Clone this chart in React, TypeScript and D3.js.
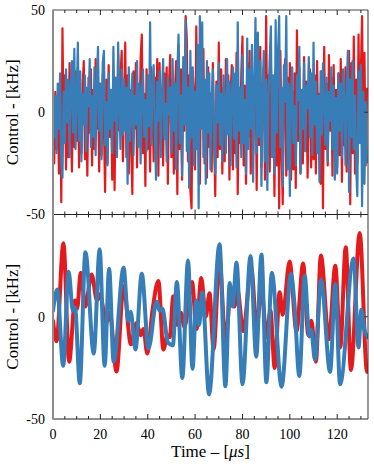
import * as d3 from "d3";

const WIDTH = 374;
const HEIGHT = 468;
const MARGIN = { top: 10, right: 6, bottom: 49, left: 53 };

const RED = "#e41a1c";
const BLUE = "#377eb8";
const FONT = "Liberation Serif, DejaVu Serif, serif";

// noisy control, one sample every 0.5 us
const STEP = 0.5;

const noiseRed = [
  -2, -25, 10, -18, 6, -30, 14, -44, 41, -12, 18, -28, 8, -22, 24, -6, -29, 15, -17, 20,
  -14, 22, -27, 9, -20, 13, 25, -23, 4, -31, 17, -10, 21, -26, 11, -18, 26, -8, 15, -29,
  12, -21, 19, -7, -39, 16, -25, 23, -12, 8, -33, 20, -38, 14, -19, 28, -9, 17, 30, -24,
  6, 34, -22, 18, -30, 11, -16, -40, 20, -8, 24, -27, 13, -14, 27, 38, -20, 9, -36, 21,
  -18, 14, -29, 22, 5, -24, 17, -12, 26, -31, 24, -15, 10, -26, 19, -8, 22, -35, 15, 28,
  -22, 16, -30, 11, 25, -40, 33, -18, 21, -33, 14, -9, 47, 36, -24, 18, -38, -47, 20, 9,
  -28, 42, -12, 27, -35, 19, -6, 31, -25, 13, -32, 22, -17, 9, -29, 24, -10, -41, 15, -22,
  34, -18, 21, -30, 12, -24, 26, -7, 18, -33, 10, 23, -28, 15, -20, 29, -40, 8, -15, 19,
  37, -26, 13, -35, 24, -12, 30, -30, 16, -21, 9, 28, -38, 20, -16, 32, -27, 11, 22, -33,
  47, -20, 18, -29, 25, -12, 8, -41, 21, -26, 14, -47, 30, -18, -45, 12, 26, -31, 17, -24,
  24, -33, 10, -28, 19, -37, 40, -14, 22, -30, 8, -25, 27, -19, 15, -32, 6, 21, -27, 13,
  -23, 18, -30, 25, -12, 9, -35, 20, -47, 32, -18, 14, -26, 28, -9, 17, -31, 23, -14, 11,
  -27, 19, -21, 26, -34, 13, -16, 22, -29, 8, 30, -45, 24, -20, 37, -30, 16, -25, 38, -12,
  21, 47, -18, 29, -26, 12,
];

const noiseBlue = [
  5, -12, 8, -20, 14, -8, 19, -26, -32, 10, -15, 21, -5, 16, -22, 12, 25, -10, 31, -18,
  6, 34, -14, 20, -24, 9, -6, 18, -19, 12, 3, 26, -17, 8, -12, 22, -21, 15, 32, -9,
  14, -23, 24, 30, -16, 5, -26, 19, -8, 11, -20, 32, -4, 17, -22, 34, 7, -18, 21, -11,
  16, -9, 12, -35, 22, -14, 3, 19, -21, 8, -6, 25, -17, 14, -25, 10, 21, -12, 6, -19,
  18, -7, 44, -16, 11, 23, -10, -33, 15, -4, 20, -22, 9, 26, -13, 4, -24, 17, -1, 12,
  -20, 26, -9, 14, -28, 20, 38, -15, 8, -31, 27, -6, 45, -19, 12, -37, 30, -12, 22, -26,
  10, -18, 33, -47, 47, -8, 44, -22, 16, -35, 25, -10, 19, -28, 6, 21, -14, -30, 13, -5,
  24, -16, 9, -24, 18, 2, -20, 26, -11, 15, -26, 7, 22, -13, 19, -27, 44, -9, 12, -22,
  28, -15, 6, -30, 36, -18, 21, -8, 33, -34, 14, 46, -20, 39, -12, 25, -36, 10, 30, -24,
  16, -38, 8, 26, 42, -22, 18, -30, 45, -10, 29, 47, -17, 12, -36, 23, 5, 47, -28, 14,
  -41, 9, 22, -15, 3, -26, 18, 6, 32, -30, 11, -8, 24, -19, 13, 2, 27, -12, 19, -21,
  34, -6, 15, -20, 8, -34, 20, -11, 24, 4, -16, 17, -24, 10, -4, 22, -18, 13, -33, 7,
  -30, 19, -9, 14, -22, 21, 6, -26, 12, 30, -39, 16, -12, 25, -18, 8, -27, -41, 20, -15,
  23, -46, 10, -35, 5, -25,
];

// smoothed control: turning points (time in us, value in kHz)
const smoothRedT = [
  0, 1.5, 4.4, 6.8, 9.3, 10.2, 11.7, 13.6, 16.3, 18.6, 19.8, 22.5, 24, 26.8, 29.8, 32.9,
  35.3, 37, 38.2, 39.8, 42, 44.5, 46.6, 48.3, 49.3, 50.8, 52.5, 54, 55.5, 58.7, 60.6, 62.6,
  64.5, 66.1, 67.8, 70.3, 72.8, 75.2, 76.6, 77.9, 80.3, 83.7, 86, 88, 90.2, 91.8, 93.6,
  95.7, 97, 99.9, 102.8, 105.6, 107.8, 109.1, 111, 113.1, 116.5, 119.2, 121.3, 123.6,
  125.8, 129.5, 132.6, 133,
];
const smoothRedV = [
  -2, -12, 36, -22, 8, 4, 21.5, 5, 20.6, 8, 11, -3, 2, -26.8, 15, -13.5,
  -3, -9, -6, -18, 3, 17.5, -16, -9, -10, 10, -4, 2, -5, 17, -6, 19,
  0, 11.5, -16, 28, -12, 14, 5, 13, -7, 24, -5, 14, -10, 3, -25,
  12, 1, 27, -7, 26, -9, -2, -22, 30, -11, 25, -15, 34,
  -26, 41, -27, -25,
];

const smoothBlueT = [
  0, 1.8, 4.3, 6.6, 8.4, 9.3, 11.3, 13.7, 17.2, 19.7, 21.8, 23.7, 25.6, 29.8, 31.8, 32.8,
  34.8, 37.5, 40.3, 43.8, 45, 46.2, 48.5, 50.6, 52.3, 54.6, 57, 58.9, 60.5, 61.7, 63,
  65.9, 70.3, 72.8, 74.6, 75.8, 77.5, 80, 83.4, 85.8, 88, 90.1, 92.4, 96.5, 100.5, 101.9,
  104, 106.3, 108.2, 109, 110.6, 113.2, 117, 119.2, 121.2, 126.9, 129, 130.2, 131.6, 133,
];
const smoothBlueV = [
  3, 13.3, -24, 22, 3, 4.5, -32.5, 31.5, -18, 33, -24, 23.5, -22, 24, -2, 2.5,
  -16, 21, -15.5, 7.5, 3, 4, -12.5, -14, 17, -30, 27.5, -25.5, 8, -4, 12,
  -38, 35.5, -34, 16.5, 5, 26.5, -33, 29.7, -19.5, 30.5, -32, 21.5, -34.2, 21, 7,
  -29, 20, -9.6, -6.5, -21, 18, -27, 16, -33, 28.5, -15, 3.4, -7, -10,
];

const xTicks = [0, 20, 40, 60, 80, 100, 120];
const xMinorTicks = d3.range(0, 134, 5);
const topYLabels = [50, 0, -50];
const bottomYLabels = [0, -50];

export default function App() {
  const x = d3
    .scaleLinear()
    .domain([0, 133])
    .range([MARGIN.left, WIDTH - MARGIN.right]);
  const plotBottom = HEIGHT - MARGIN.bottom;
  const mid = (MARGIN.top + plotBottom) / 2;
  const yTop = d3.scaleLinear().domain([-50, 50]).range([mid, MARGIN.top]);
  const yBottom = d3.scaleLinear().domain([-50, 50]).range([plotBottom, mid]);

  const noiseLine = d3
    .line<number>()
    .x((d, i) => x(i * STEP))
    .y((d) => yTop(d));

  const smoothLine = d3
    .line<[number, number]>()
    .x((d) => x(d[0]))
    .y((d) => yBottom(d[1]))
    .curve(d3.curveMonotoneX);

  const redPts = smoothRedT.map((t, i) => [t, smoothRedV[i]] as [number, number]);
  const bluePts = smoothBlueT.map((t, i) => [t, smoothBlueV[i]] as [number, number]);

  const left = x.range()[0];
  const right = x.range()[1];

  // inward ticks along a horizontal border
  const hTicks = (y: number, dir: number, key: string) =>
    xMinorTicks.map((t) => (
      <line
        key={key + t}
        x1={x(t)}
        x2={x(t)}
        y1={y}
        y2={y + dir * (t % 20 === 0 ? 5 : 3)}
        stroke="#222"
        strokeWidth={1}
      />
    ));

  const textStyle = { fontFamily: FONT };

  return (
    <svg
      width={WIDTH}
      height={HEIGHT}
      style={{ position: "absolute", left: 0, top: 0, background: "#fff" }}
    >
      <defs>
        <clipPath id="clipTop">
          <rect x={left} y={MARGIN.top} width={right - left} height={mid - MARGIN.top} />
        </clipPath>
        <clipPath id="clipBottom">
          <rect x={left} y={mid} width={right - left} height={plotBottom - mid} />
        </clipPath>
      </defs>

      <g clipPath="url(#clipTop)" fill="none" strokeLinejoin="round">
        <path d={noiseLine(noiseRed) || ""} stroke={RED} strokeWidth={2.2} />
        <path d={noiseLine(noiseBlue) || ""} stroke={BLUE} strokeWidth={2.2} />
      </g>

      <g clipPath="url(#clipBottom)" fill="none" strokeLinejoin="round" strokeLinecap="round">
        <path d={smoothLine(redPts) || ""} stroke={RED} strokeWidth={4} />
        <path d={smoothLine(bluePts) || ""} stroke={BLUE} strokeWidth={4} />
      </g>

      {/* frame */}
      <line x1={left} x2={right} y1={MARGIN.top} y2={MARGIN.top} stroke="#444" />
      <line x1={left} x2={right} y1={mid} y2={mid} stroke="#222" />
      <line x1={left} x2={right} y1={plotBottom} y2={plotBottom} stroke="#222" />
      <line x1={right} x2={right} y1={MARGIN.top} y2={plotBottom} stroke="#333" />
      {hTicks(MARGIN.top, 1, "a")}
      {hTicks(mid, -1, "b")}
      {hTicks(mid, 1, "c")}
      {hTicks(plotBottom, -1, "d")}
      <line x1={right} x2={right - 4} y1={yTop(0)} y2={yTop(0)} stroke="#333" />
      <line x1={right} x2={right - 4} y1={yBottom(0)} y2={yBottom(0)} stroke="#333" />
      <line
        x1={left}
        x2={left}
        y1={MARGIN.top - 0.5}
        y2={plotBottom + 0.5}
        stroke="#8c8c8c"
        strokeWidth={2}
      />

      {/* y tick labels */}
      {topYLabels.map((v) => (
        <text key={"ty" + v} x={left - 8} y={yTop(v)} dy="0.35em" textAnchor="end" fontSize={14} style={textStyle}>
          {v}
        </text>
      ))}
      {bottomYLabels.map((v) => (
        <text key={"by" + v} x={left - 8} y={yBottom(v)} dy="0.35em" textAnchor="end" fontSize={14} style={textStyle}>
          {v}
        </text>
      ))}

      {/* x tick labels */}
      {xTicks.map((t) => (
        <text key={"xt" + t} x={x(t)} y={plotBottom + 20} textAnchor="middle" fontSize={14} style={textStyle}>
          {t}
        </text>
      ))}

      <text x={(left + right) / 2} y={plotBottom + 38} textAnchor="middle" fontSize={17} style={textStyle}>
        {"Time – ["}
        <tspan fontStyle="italic">μs</tspan>
        {"]"}
      </text>

      <text
        transform={`translate(18,${(MARGIN.top + mid) / 2}) rotate(-90)`}
        textAnchor="middle"
        fontSize={17}
        style={textStyle}
      >
        Control - [kHz]
      </text>
      <text
        transform={`translate(18,${(mid + plotBottom) / 2}) rotate(-90)`}
        textAnchor="middle"
        fontSize={17}
        style={textStyle}
      >
        Control - [kHz]
      </text>
    </svg>
  );
}
